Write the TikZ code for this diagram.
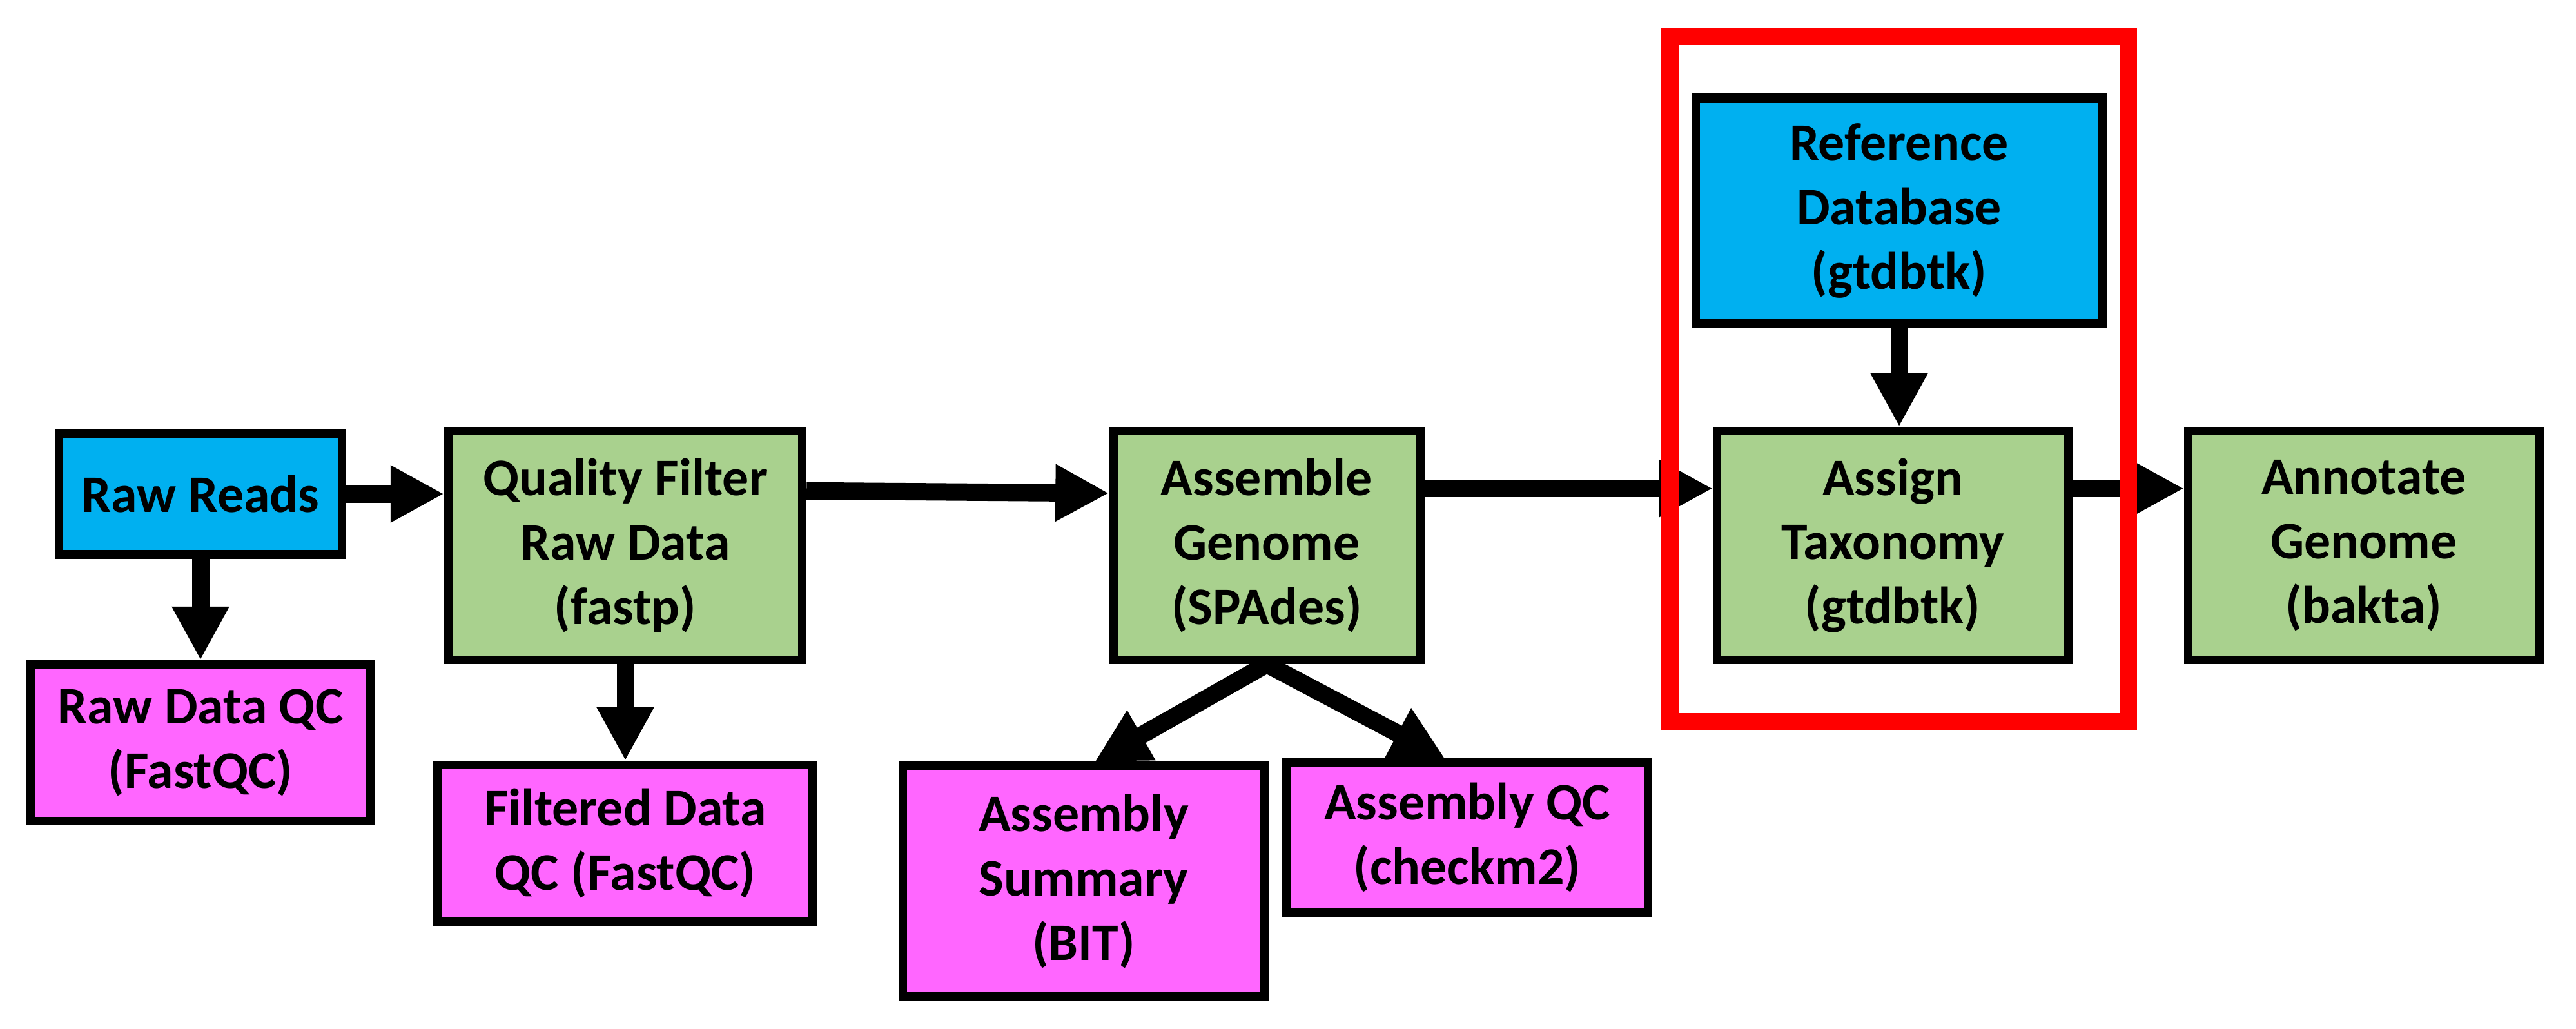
\documentclass[tikz,border=0pt]{standalone}
\usepackage{fontspec}
\setmainfont{Carlito}
\usetikzlibrary{arrows.meta,positioning,fit,calc}

\definecolor{dbblue}{HTML}{00B0F0}
\definecolor{stepgreen}{HTML}{A9D18E}
\definecolor{qcpink}{HTML}{FF66FF}

\begin{document}
\begin{tikzpicture}[node distance=2cm,on grid,
  box/.style={draw=black,line width=0.134cm,align=center,inner sep=0pt,
    font=\bfseries\fontsize{23.3}{28.4}\selectfont},
  databox/.style={box,fill=dbblue},
  stepbox/.style={box,fill=stepgreen,minimum width=5.45cm,minimum height=3.55cm},
  qcbox/.style={box,fill=qcpink},
  flow/.style={-{Triangle[length=0.83cm,width=0.83cm]},line width=0.27cm}]

  \useasboundingbox (0,0) rectangle (39.96,-15.95);

  % pipeline steps
  \node[databox,minimum width=4.39cm,minimum height=1.88cm] (raw) at (3.11,-7.66) {Raw Reads};
  \node[stepbox,minimum width=5.49cm] (qf) [below right=0.80cm and 6.59cm of raw] {Quality Filter\\Raw Data\\(fastp)};
  \node[stepbox,minimum width=4.76cm] (asm) [right=9.95cm of qf] {Assemble\\Genome\\(SPAdes)};
  \node[stepbox] (taxa) [right=9.71cm of asm] {Assign\\Taxonomy\\(gtdbtk)};
  \node[stepbox] (annot) [right=7.31cm of taxa] {Annotate\\Genome\\(bakta)};
  \node[databox,minimum width=6.31cm,minimum height=3.50cm] (refdb) [above right=5.19cm and 0.10cm of taxa] {Reference\\Database\\(gtdbtk)};

  % qc outputs
  \node[qcbox,minimum width=5.27cm,minimum height=2.43cm] (rawqc) [below=3.86cm of raw] {Raw Data QC\\(FastQC)};
  \node[qcbox,minimum width=5.82cm,minimum height=2.43cm] (filtqc) [below=4.62cm of qf] {Filtered Data\\QC (FastQC)};
  \node[qcbox,minimum width=5.61cm,minimum height=3.58cm] (summary) [below left=5.21cm and 2.84cm of asm] {Assembly\\Summary\\(BIT)};
  \node[qcbox,minimum width=5.61cm,minimum height=2.32cm] (asmqc) [below right=4.53cm and 3.11cm of asm] {Assembly QC\\(checkm2)};

  \coordinate (asmout) at ($(asm.north east)!.26!(asm.south east)$);

  \draw[flow] (raw) -- (raw -| qf.west);
  \draw[flow] (raw) -- (rawqc);
  \draw[flow] (qf) -- (filtqc);
  \draw[flow] ($(qf.north east)!.27!(qf.south east)$) -- ($(asm.north west)!.28!(asm.south west)$);
  \draw[flow] (asm.south) -- ($(summary.north west)!.53!(summary.north east)$);
  \draw[flow] (asm.south) -- ($(asmqc.north west)!.44!(asmqc.north east)$);
  \draw[flow] (asmout) -- (asmout -| taxa.west);
  \draw[flow] ($(taxa.north east)!.26!(taxa.south east)$) -- ($(annot.north west)!.26!(annot.south west)$);
  \draw[flow] (refdb) -- (refdb |- taxa.north);

  % highlight
  \node[draw=red,line width=0.27cm,inner xsep=0.33cm,inner ysep=0.89cm,fit=(refdb)(taxa)] (frame) {};
\end{tikzpicture}
\end{document}
